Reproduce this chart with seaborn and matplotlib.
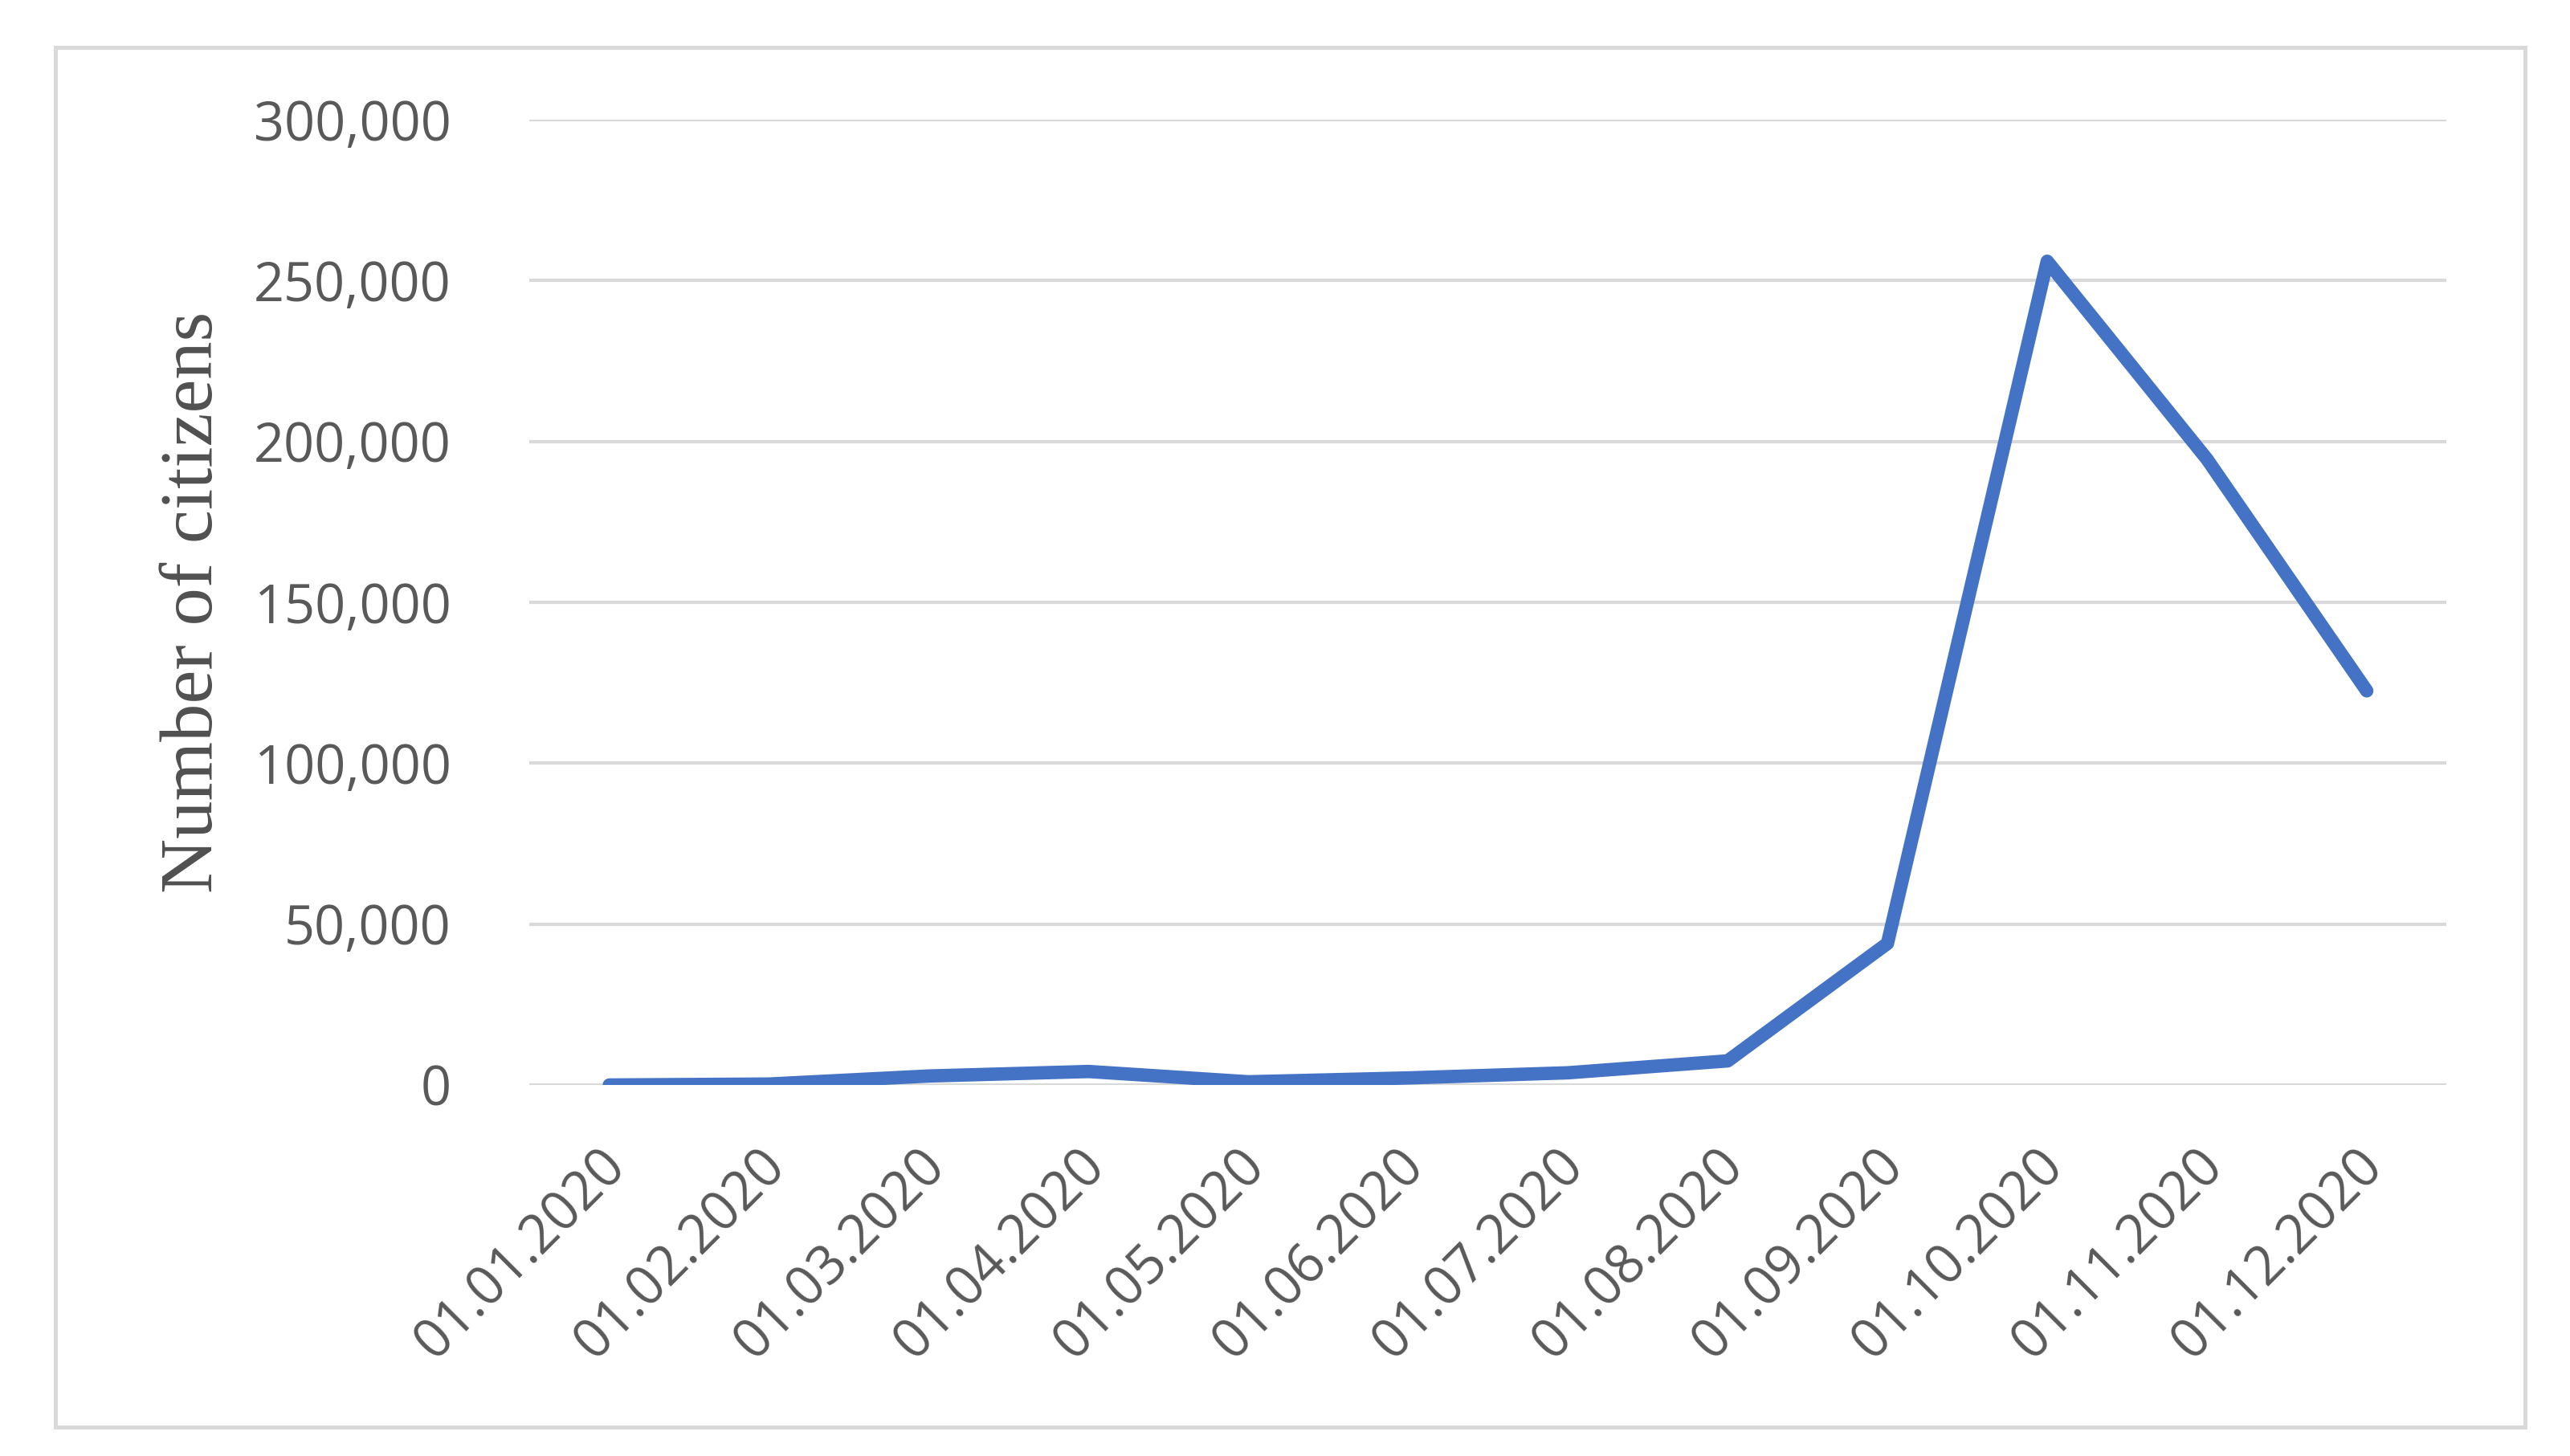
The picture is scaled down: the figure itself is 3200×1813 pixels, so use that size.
import matplotlib
matplotlib.use("Agg")
import matplotlib.pyplot as plt
import matplotlib.ticker as mticker
import matplotlib.transforms as mtransforms
import pandas as pd
import seaborn as sns

# monthly data
dates = ['01.01.2020', '01.02.2020', '01.03.2020', '01.04.2020', '01.05.2020', '01.06.2020',
         '01.07.2020', '01.08.2020', '01.09.2020', '01.10.2020', '01.11.2020', '01.12.2020']
citizens = [0, 300, 2800, 4200, 1000, 2200, 3800, 7500, 44000, 256000, 194500, 122500]
y_ticks = [0, 50000, 100000, 150000, 200000, 250000, 300000]

df = pd.DataFrame({'date': dates, 'citizens': citizens})

sns.set_theme(style='white')
plt.rcParams['font.family'] = ['Open Sans', 'DejaVu Sans']

fig = plt.figure(figsize=(16, 9.065), dpi=200)
ax = fig.add_axes([0.206, 0.2548, 0.746, 0.663])

sns.lineplot(data=df, x='date', y='citizens', ax=ax, color='#4472C4', linewidth=6, sort=False)

ax.set_xlim(-0.5, len(dates) - 0.5)
ax.set_ylim(0, 300000)
ax.set_yticks(y_ticks)
ax.yaxis.set_major_formatter(mticker.StrMethodFormatter('{x:,.0f}'))
ax.yaxis.grid(True, color='#D9D9D9', linewidth=1.5)
ax.set_axisbelow(True)
for s in ax.spines.values():
    s.set_visible(False)

ax.tick_params(axis='y', labelsize=24, labelcolor='#595959', length=0, pad=35)
ax.tick_params(axis='x', labelsize=24, labelcolor='#595959', length=0, pad=24)
# nudge rotated date labels a bit to the left
shift = mtransforms.ScaledTranslation(-5 / 72, 0, fig.dpi_scale_trans)
for lbl in ax.get_xticklabels():
    lbl.set_rotation(45)
    lbl.set_ha('right')
    lbl.set_rotation_mode('anchor')
    lbl.set_transform(lbl.get_transform() + shift)

ax.set_xlabel('')
ax.set_ylabel('Number of citizens', family='Liberation Serif', fontsize=34, color='#505050')
ax.yaxis.set_label_coords(-0.157, 0.5)

# outer chart border
fig.patches.append(plt.Rectangle((0.0216, 0.0199), 0.961, 0.9476, transform=fig.transFigure,
                                 fill=False, edgecolor='#D9D9D9', linewidth=1.8))

fig.savefig('out.png', dpi=200, facecolor='white')
